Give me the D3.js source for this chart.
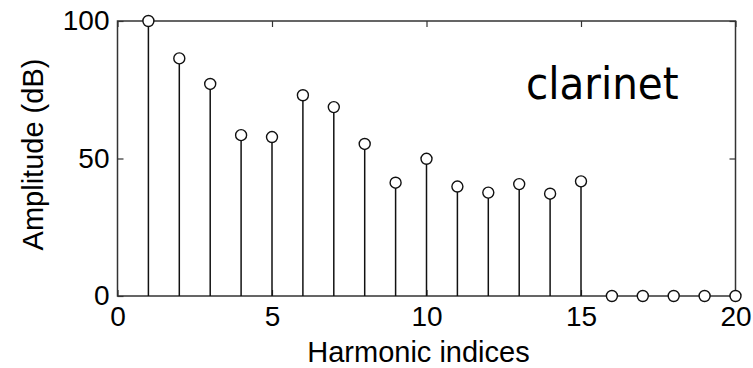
<!DOCTYPE html>
<html>
<head>
<meta charset="utf-8">
<script src="https://cdn.jsdelivr.net/npm/d3@7/dist/d3.min.js"></script>
<style>
  html, body { margin: 0; padding: 0; background: #fff; }
  svg { display: block; }
</style>
</head>
<body>
<svg id="chart" width="753" height="368"></svg>
<script>
// Harmonic amplitudes of a clarinet tone
const harmonics = [1, 2, 3, 4, 5, 6, 7, 8, 9, 10, 11, 12, 13, 14, 15, 16, 17, 18, 19, 20];
const amplitudes = [100, 86.4, 77.1, 58.5, 57.8, 73, 68.7, 55.3, 41.2, 49.9, 39.8, 37.6, 40.7, 37.2, 41.7, 0, 0, 0, 0, 0];
const xTicks = [0, 5, 10, 15, 20];
const yTicks = [0, 50, 100];
const instrument = "clarinet";

const svg = d3.select("#chart");
const box = { left: 117.5, right: 735.5, top: 21, bottom: 296 };

const x = d3.scaleLinear().domain([0, 20]).range([box.left, box.right]);
const y = d3.scaleLinear().domain([0, 100]).range([box.bottom, box.top]);

const tickFont = "'Liberation Sans', Arial, sans-serif";
const axisColor = "#333";

// Frame and inward ticks on all four sides
const axisG = svg.append("g");
axisG.append("rect")
  .attr("x", box.left).attr("y", box.top)
  .attr("width", box.right - box.left).attr("height", box.bottom - box.top)
  .attr("fill", "none").attr("stroke", axisColor).attr("stroke-width", 1.5);

const bottomAxis = d3.axisBottom(x).tickValues(xTicks).tickSize(-6).tickPadding(10).tickFormat(d3.format("d"));
const topAxis = d3.axisTop(x).tickValues(xTicks).tickSize(-6).tickFormat("");
const leftAxis = d3.axisLeft(y).tickValues(yTicks).tickSize(-6).tickPadding(8).tickFormat(d3.format("d"));
const rightAxis = d3.axisRight(y).tickValues(yTicks).tickSize(-6).tickFormat("");

function styleAxis(g) {
  g.select(".domain").remove();
  g.selectAll(".tick line").attr("stroke", axisColor).attr("stroke-width", 1.2);
  g.selectAll(".tick text").attr("fill", "#000").attr("font-family", tickFont).attr("font-size", 28);
}

axisG.append("g").attr("transform", `translate(0,${box.bottom})`).call(bottomAxis).call(styleAxis);
axisG.append("g").attr("transform", `translate(0,${box.top})`).call(topAxis).call(styleAxis);
axisG.append("g").attr("transform", `translate(${box.left},0)`).call(leftAxis).call(styleAxis);
axisG.append("g").attr("transform", `translate(${box.right},0)`).call(rightAxis).call(styleAxis);

// Stems
const data = harmonics.map((h, i) => ({ h, a: amplitudes[i] }));
svg.append("g").selectAll("line")
  .data(data)
  .join("line")
  .attr("x1", d => x(d.h)).attr("x2", d => x(d.h))
  .attr("y1", y(0)).attr("y2", d => y(d.a))
  .attr("stroke", "#111").attr("stroke-width", 1.5);

// Open circle markers
svg.append("g").selectAll("circle")
  .data(data)
  .join("circle")
  .attr("cx", d => x(d.h)).attr("cy", d => y(d.a))
  .attr("r", 5.5)
  .attr("fill", "#fff")
  .attr("stroke", "#111").attr("stroke-width", 1.4);

// Axis titles
svg.append("text")
  .attr("x", (box.left + box.right) / 2 - 8).attr("y", 362)
  .attr("text-anchor", "middle")
  .attr("font-family", tickFont).attr("font-size", 29)
  .text("Harmonic indices");

svg.append("text")
  .attr("transform", `translate(43,${(box.top + box.bottom) / 2 - 4}) rotate(-90)`)
  .attr("text-anchor", "middle")
  .attr("font-family", tickFont).attr("font-size", 29)
  .text("Amplitude (dB)");

// Instrument name
svg.append("text")
  .attr("x", 526).attr("y", 99)
  .attr("font-family", "'DejaVu Sans Condensed', 'DejaVu Sans', sans-serif")
  .attr("font-size", 45)
  .text(instrument);
</script>
</body>
</html>
